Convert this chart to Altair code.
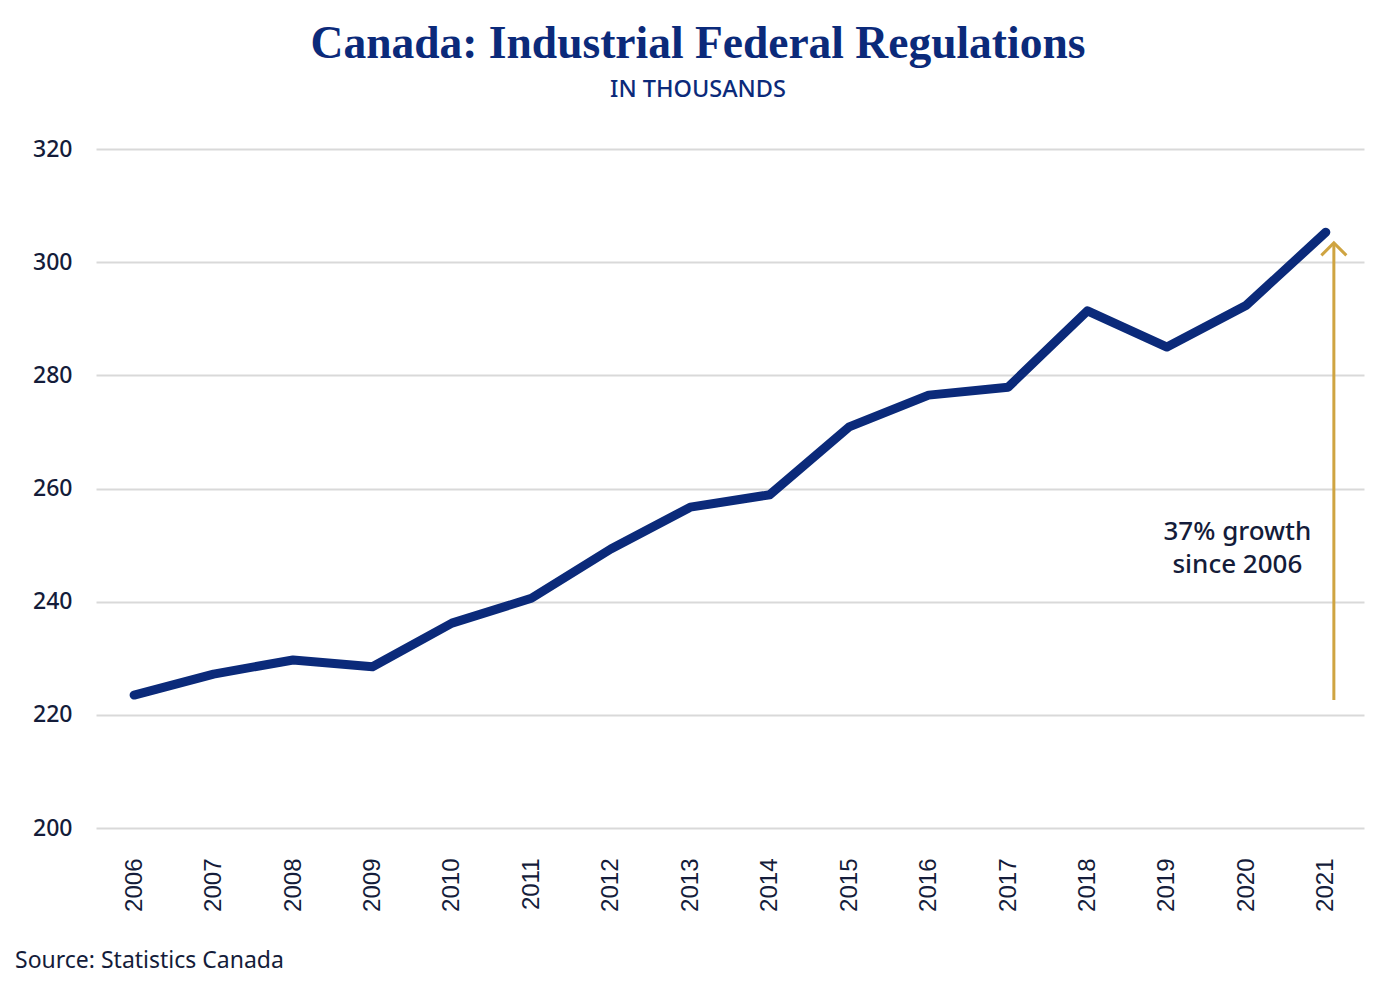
import altair as alt
import pandas as pd

years = list(range(2006, 2022))
values = [223.5, 227.2, 229.7, 228.5, 236.2, 240.6, 249.3, 256.7,
          258.9, 270.9, 276.5, 277.9, 291.4, 285.0, 292.4, 305.3]
y_ticks = [200, 220, 240, 260, 280, 300, 320]

title_text = "Canada: Industrial Federal Regulations"
subtitle_text = "IN THOUSANDS"
source_text = "Source: Statistics Canada"
note_lines = ["37% growth", "since 2006"]
arrow_year = 2021
arrow_from = 222.6
arrow_to = 303.4
note_year = 2020
note_value = 252.4

NAVY = "#0b2a7a"
GOLD = "#cfa441"
TEXT = "#141c3a"

df = pd.DataFrame({"year": years, "value": values})
arrow_df = pd.DataFrame({"year": [arrow_year], "v1": [arrow_from], "v2": [arrow_to]})
note_df = pd.DataFrame({"year": [note_year], "value": [note_value], "t": [note_lines]})

xscale = alt.Scale(type="point", padding=0.48)
yscale = alt.Scale(domain=[200, 320], nice=False, zero=False)

x_enc = alt.X("year:O", scale=xscale, sort=years,
              axis=alt.Axis(title=None, labelAngle=270, labelFont="Liberation Sans",
                            labelFontSize=24, labelColor=TEXT, labelPadding=30,
                            domain=False, ticks=False, grid=False,
                            labelAlign="right", labelBaseline="middle"))
y_enc = alt.Y("value:Q", scale=yscale,
              axis=alt.Axis(title=None, values=y_ticks, labelFont="Noto Sans",
                            labelFontSize=23, labelFontWeight=500, labelColor=TEXT,
                            labelPadding=24,
                            domain=False, ticks=False, grid=True,
                            gridColor="#d9d9d9", gridWidth=2))

line = alt.Chart(df).mark_line(color=NAVY, strokeWidth=9, strokeCap="round",
                               strokeJoin="round").encode(x=x_enc, y=y_enc)

rule = alt.Chart(arrow_df).mark_rule(color=GOLD, strokeWidth=3, xOffset=8).encode(
    x=alt.X("year:O", scale=xscale, sort=years),
    y=alt.Y("v1:Q", scale=yscale), y2="v2:Q")

head = alt.Chart(arrow_df).mark_point(shape="M-1,1L0,0L1,1", filled=False,
                                      color=GOLD, strokeWidth=3, size=625,
                                      xOffset=8, opacity=1).encode(
    x=alt.X("year:O", scale=xscale, sort=years),
    y=alt.Y("v2:Q", scale=yscale))

note = alt.Chart(note_df).mark_text(font="Noto Sans", fontSize=26, fontWeight=500,
                                    color=TEXT, align="center", baseline="middle",
                                    lineHeight=33, xOffset=-9).encode(
    x=alt.X("year:O", scale=xscale, sort=years),
    y=alt.Y("value:Q", scale=yscale), text="t")

title = alt.Chart(pd.DataFrame({"t": [title_text]})).mark_text(
    font="Liberation Serif", fontSize=45.5, fontWeight="bold", color=NAVY,
    align="center", baseline="alphabetic").encode(
    x=alt.value(602), y=alt.value(-91), text="t")

subtitle = alt.Chart(pd.DataFrame({"t": [subtitle_text]})).mark_text(
    font="Noto Sans", fontSize=23.5, fontWeight=500, color=NAVY,
    align="center", baseline="alphabetic").encode(
    x=alt.value(602), y=alt.value(-52), text="t")

source = alt.Chart(pd.DataFrame({"t": [source_text]})).mark_text(
    font="Noto Sans", fontSize=23, color=TEXT,
    align="left", baseline="alphabetic").encode(
    x=alt.value(-81), y=alt.value(819), text="t")

chart = alt.layer(line, rule, head, note, title, subtitle, source).properties(
    width=1268, height=679,
    autosize=alt.AutoSizeParams(type="none"),
    padding={"left": 88, "top": 141, "right": 28, "bottom": 149},
).configure(background="white").configure_view(stroke=None, strokeWidth=0)

chart.save("out.html", embed_options={"renderer": "svg", "actions": False})
